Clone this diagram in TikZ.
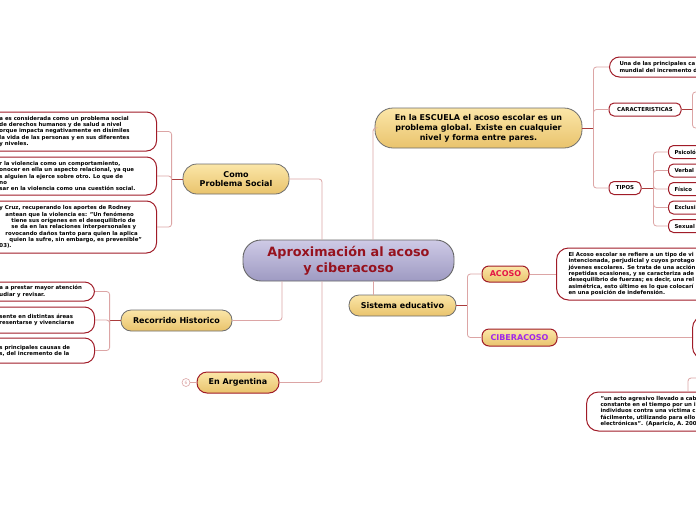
\documentclass[tikz,border=0pt]{standalone}
\usepackage{fontspec}
\setmainfont{DejaVu Sans}

\definecolor{connpink}{RGB}{220,165,165}
\definecolor{conndark}{RGB}{170,60,60}
\definecolor{boxred}{RGB}{160,28,40}
\definecolor{goldtop}{RGB}{251,230,168}
\definecolor{goldbot}{RGB}{233,195,108}
\definecolor{lavtop}{RGB}{206,202,230}
\definecolor{lavbot}{RGB}{158,154,194}
\definecolor{titlered}{RGB}{150,18,30}
\definecolor{acosored}{RGB}{228,20,70}
\definecolor{ciberpurple}{RGB}{160,40,235}
\definecolor{edgegray}{RGB}{110,110,110}

% text of boxes cut at the left border
\newcommand{\lcut}[2][153pt]{\hspace*{47pt}\parbox{#1}{\raggedright #2}}

\begin{document}
\begin{tikzpicture}[
  x=1pt, y=-1pt,
  root/.style={draw=black!60, line width=0.9pt, top color=lavtop, bottom color=lavbot,
               rounded corners=18pt, align=center, inner sep=0pt,
               font=\fontsize{12.8}{16}\selectfont\bfseries, text=titlered},
  topic/.style={draw=edgegray, line width=0.8pt, top color=goldtop, bottom color=goldbot,
                rounded corners=10pt, align=center, inner sep=0pt,
                font=\fontsize{8}{9.6}\selectfont\bfseries},
  redtopic/.style={topic, draw=boxred, line width=1pt},
  wbox/.style={draw=boxred, line width=1pt, fill=white, rounded corners=10pt,
               inner xsep=4pt, inner ysep=0pt, font=\fontsize{5.4}{6.3}\selectfont\bfseries},
  tag/.style={draw=boxred, line width=1pt, fill=white, rounded corners=5pt, inner sep=0pt,
              minimum height=13pt, font=\fontsize{5.4}{6.3}\selectfont\bfseries},
  conn/.style={draw=connpink, line width=0.8pt, rounded corners=3pt},
  stub/.style={draw=conndark, line width=0.9pt}
]
  \useasboundingbox (0,0) rectangle (696,520);
  \clip (0,0) rectangle (696,520);
  \fill[white] (0,0) rectangle (696,520);

  % main topics
  \node[root, minimum width=211pt, minimum height=41pt] (central) at (348.5,260.5)
        {Aproximación al acoso\\y ciberacoso};
  \node[topic, minimum width=106pt, minimum height=30pt, rounded corners=14pt] (social) at (236,179)
        {Como\\Problema Social};
  \node[topic, minimum width=111pt, minimum height=21pt] (historia) at (176.5,320.5) {Recorrido Historico};
  \node[redtopic, minimum width=82pt, minimum height=21pt] (argentina) at (238,382.5) {En Argentina};
  \node[topic, minimum width=107pt, minimum height=21pt] (sistema) at (402.5,305.5) {Sistema educativo};
  \node[topic, minimum width=207pt, minimum height=40pt, rounded corners=18pt,
        font=\fontsize{8}{10}\selectfont\bfseries] (escuela) at (478.5,128)
        {En la ESCUELA el acoso escolar es un\\problema global. Existe en cualquier\\nivel y forma entre pares.};
  \node[redtopic, minimum width=47pt, minimum height=16pt, rounded corners=7pt, text=acosored] (acoso) at (505.5,274) {ACOSO};
  \node[redtopic, minimum width=75pt, minimum height=17pt, rounded corners=7pt, text=ciberpurple] (ciber) at (519.5,337.5) {CIBERACOSO};

  \node[circle, draw=connpink, line width=0.6pt, minimum size=8pt, inner sep=0pt, text=connpink,
        font=\fontsize{4.5}{5}\selectfont] (nota) at (186,382.5) {6};

  % problema social
  \node[wbox, anchor=east, minimum height=39pt] (social-a) at (157,131.5)
        {\lcut{a es considerada como un problema social\\de derechos humanos y de salud a nivel\\orque impacta negativamente en disímiles\\la vida de las personas y en sus diferentes\\y niveles.}};
  \node[wbox, anchor=east, minimum height=38pt] (social-b) at (157,176)
        {\lcut{r la violencia como un comportamiento,\\onocer en ella un aspecto relacional, ya que\\s alguien la ejerce sobre otro. Lo que de\\no\\sar en la violencia como una cuestión social.}};
  \node[wbox, anchor=east, minimum height=52pt] (social-c) at (157,227)
        {\lcut{y Cruz, recuperando los aportes de Rodney\\
         \hspace*{6pt}antean que la violencia es: "Un fenómeno\\
         \hspace*{12pt}tiene sus orígenes en el desequilibrio de\\
         \hspace*{12pt}se da en las relaciones interpersonales y\\
         \hspace*{6pt}rovocando daños tanto para quien la aplica\\
         \hspace*{10pt}quien la sufre, sin embargo, es prevenible"\\
         03).}};

  % recorrido historico
  \node[wbox, anchor=east, minimum height=19pt] (historia-a) at (95,291.5)
        {\lcut[91pt]{a a prestar mayor atención\\udiar y revisar.}};
  \node[wbox, anchor=east, minimum height=26pt] (historia-b) at (95,320)
        {\lcut[91pt]{sente en distintas áreas\\resentarse y vivenciarse}};
  \node[wbox, anchor=east, minimum height=25pt] (historia-c) at (95,350.5)
        {\lcut[91pt]{s principales causas de\\s, del incremento de la}};

  % escuela
  \node[wbox, anchor=west, text width=200pt, align=left, inner xsep=10pt, minimum height=20pt] (una) at (609,67)
        {Una de las principales ca\\mundial del incremento d};
  \node[tag, minimum width=72pt] (carac) at (645,109.5) {CARACTERISTICAS};
  \node[tag, minimum width=32pt] (tipos) at (625,188) {TIPOS};
  \coordinate (carac-up) at (702,92);
  \coordinate (carac-dn) at (702,128);

  % sistema educativo
  \node[wbox, anchor=west, text width=200pt, align=left, inner xsep=12pt, minimum height=52pt, rounded corners=12pt] (acoso-def) at (556,274)
        {El Acoso escolar se refiere a un tipo de vi\\intencionada, perjudicial y cuyos protago\\jóvenes escolares. Se trata de una acción\\repetidas ocasiones, y se caracteriza ade\\desequilibrio de fuerzas; es decir, una rel\\asimétrica, esto último es lo que colocarí\\en una posición de indefensión.};
  \node[wbox, anchor=west, minimum width=60pt, minimum height=43pt, rounded corners=12pt] (ciber-def) at (692,337.5) {};
  \node[wbox, anchor=west, text width=200pt, align=left, inner xsep=14pt, minimum height=39pt, rounded corners=12pt] (cita) at (586,411.5)
        {"un acto agresivo llevado a cab\\constante en el tiempo por un i\\individuos contra una víctima c\\fácilmente, utilizando para ello\\electrónicas". (Aparicio, A. 200};
  \coordinate (cita-up) at (702,378);

  % links to the central topic
  \draw[conn] (social.east) -| ([xshift=-26.5pt]central.north);
  \draw[conn] (argentina.east) -| ([xshift=-26.5pt]central.south);
  \draw[conn] (historia.east) -| ([xshift=-66.5pt]central.south);
  \draw[conn] ([xshift=24.5pt]central.north) |- (escuela.west);
  \draw[conn] ([xshift=24.5pt]central.south) -- ([xshift=-29.5pt]sistema.north);
  \draw[conn] (nota) -- (argentina.west);

  % fans
  \draw[stub] (social.west) -- ++(-11,0) coordinate (social-j);
  \foreach \b in {social-a,social-b,social-c} \draw[conn] (social-j) |- (\b.east);
  \draw[stub] (historia.west) -- ++(-11,0) coordinate (historia-j);
  \foreach \b in {historia-a,historia-b,historia-c} \draw[conn] (historia-j) |- (\b.east);
  \draw[stub] (escuela.east) -- ++(11,0) coordinate (escuela-j);
  \foreach \b in {una,carac,tipos} \draw[conn] (escuela-j) |- (\b.west);
  \draw[stub] (carac.east) -- ++(11,0) coordinate (carac-j);
  \draw[conn] (carac-j) |- (carac-up);
  \draw[conn] (carac-j) |- (carac-dn);
  \draw[stub] (tipos.east) -- ++(12,0) coordinate (tipos-j);
  \foreach \name/\y/\txt in {psico/152/Psicoló, verbal/170.5/Verbal, fisico/189/Físico,
                             exclu/207.5/Exclusi, sexual/226/Sexual} {
    \node[tag, anchor=west, text width=60pt, inner xsep=6pt, align=left] (\name) at (668,\y) {\txt};
    \draw[conn] (tipos-j) |- (\name.west);
  }
  \draw[stub] (sistema.east) -- ++(11,0) coordinate (sistema-j);
  \draw[conn] (sistema-j) |- (acoso.west);
  \draw[conn] (sistema-j) |- (ciber.west);
  \draw[conn] (acoso.east) -- (acoso-def.west);
  \draw[conn] (ciber.east) -- (ciber-def.west);
  \draw[conn] ([xshift=102pt]cita.north west) |- (cita-up);
\end{tikzpicture}
\end{document}
